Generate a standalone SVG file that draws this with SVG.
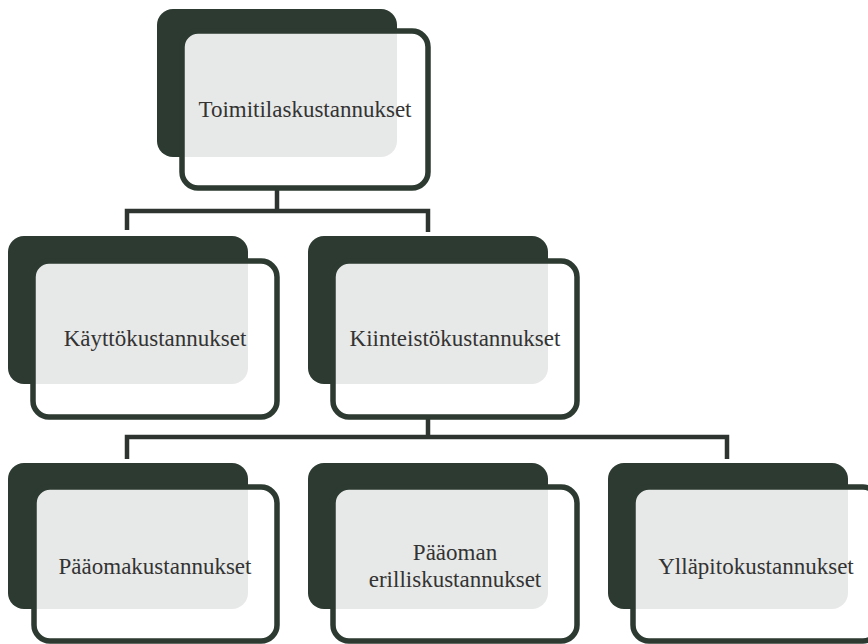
<svg xmlns="http://www.w3.org/2000/svg" width="868" height="644" viewBox="0 0 868 644">
<style>
.back{fill:#2c3a31}
.front{fill:#ffffff;fill-opacity:0.89;stroke:#2c3a31;stroke-width:5.5}
.lbl{font-family:'Liberation Serif','Times New Roman',Times,'DejaVu Serif',serif;font-size:23px;fill:#333333;text-anchor:middle}
.conn{fill:none;stroke:#2e3530;stroke-width:4.5;stroke-linejoin:miter;stroke-linecap:butt}
</style>
<rect width="868" height="644" fill="#ffffff"/>
<g id="connectors">
<path class="conn" d="M277 188 V211 M127 230 V211 H428 V232"/>
<path class="conn" d="M428 417 V437 M127 459 V437 H727 V459"/>
</g>
<g id="n-toimitila">
<rect class="back" x="157" y="9" width="240" height="148" rx="16"/>
<rect class="front" x="182" y="31" width="246" height="157" rx="16"/>
<text class="lbl" x="305" y="117" font-family="Liberation Serif, serif">Toimitilaskustannukset</text>
</g>
<g id="n-kaytto">
<rect class="back" x="8" y="236" width="240" height="148" rx="16"/>
<rect class="front" x="33" y="261" width="244" height="156" rx="16"/>
<text class="lbl" x="155" y="346">Käyttökustannukset</text>
</g>
<g id="n-kiinteisto">
<rect class="back" x="308" y="236" width="240" height="148" rx="16"/>
<rect class="front" x="333" y="261" width="244" height="156" rx="16"/>
<text class="lbl" x="455" y="346">Kiinteistökustannukset</text>
</g>
<g id="n-paaoma">
<rect class="back" x="8" y="463" width="240" height="146" rx="16"/>
<rect class="front" x="34" y="487" width="243" height="154" rx="16"/>
<text class="lbl" x="155" y="574">Pääomakustannukset</text>
</g>
<g id="n-erillis">
<rect class="back" x="308" y="463" width="240" height="146" rx="16"/>
<rect class="front" x="333" y="487" width="244" height="154" rx="16"/>
<text class="lbl" x="455" y="560">Pääoman</text>
<text class="lbl" x="455" y="587">erilliskustannukset</text>
</g>
<g id="n-yllapito">
<rect class="back" x="608" y="463" width="240" height="146" rx="16"/>
<rect class="front" x="633" y="487" width="246" height="154" rx="16"/>
<text class="lbl" x="756" y="574">Ylläpitokustannukset</text>
</g>
</svg>
